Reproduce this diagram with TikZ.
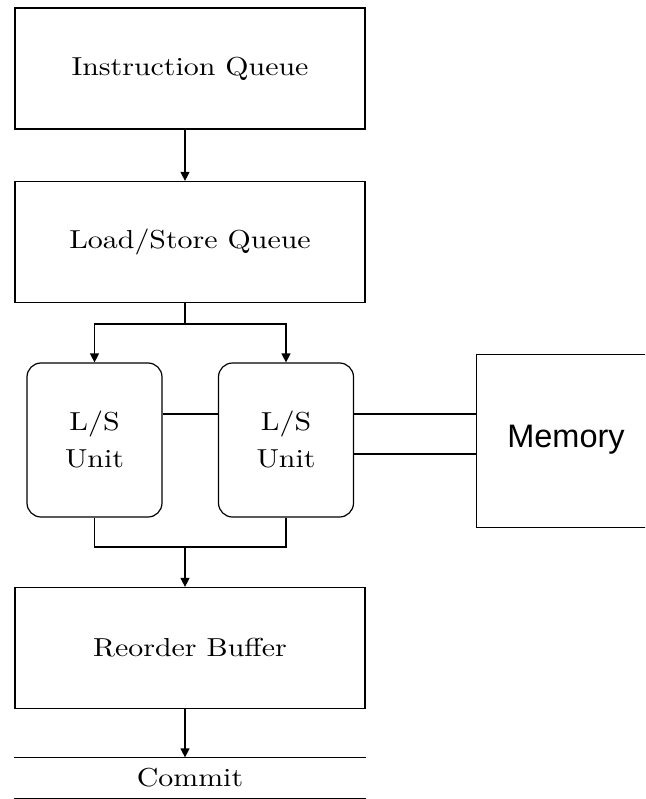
\documentclass[tikz,border=0pt]{standalone}
\usepackage{fontspec}
\setmainfont{lmroman10-regular.otf}[FakeStretch=1.15]
\newfontfamily\memfont{Liberation Sans}
\usetikzlibrary{arrows.meta}
\begin{document}
\begin{tikzpicture}[x=1pt,y=-1pt,
  line width=1.2pt,
  every node/.style={font=\fontsize{26}{37}\selectfont},
  block/.style={draw, rectangle, minimum width=350pt, minimum height=121pt, inner sep=0pt},
  unitbox/.style={draw, rectangle, rounded corners=14pt, minimum width=135pt, minimum height=154pt, align=center, inner sep=0pt},
  arr/.style={-{Triangle[length=9pt,width=9pt]}}]
\useasboundingbox (0,0) rectangle (645,799);
\clip (0,0) rectangle (645,799);
\node[block] (iq) at (190,68.5) {Instruction Queue};
\node[block] (lsq) at (190,242) {Load/Store Queue};
\node[unitbox] (u1) at (94.5,440) {L/S\\Unit};
\node[unitbox] (u2) at (286,440) {L/S\\Unit};
\node[draw, rectangle, minimum width=180pt, minimum height=173pt, inner sep=0pt, anchor=north west] (mem) at (476,354) {};
\node[font=\memfont\fontsize{32.5}{36}\selectfont] (memlbl) at (566,440) {Memory};
\node[block] (rob) at (190,648) {Reorder Buffer};
\node[minimum width=350pt, minimum height=40pt, inner sep=0pt] (commit) at (190,778) {Commit};
\coordinate (split) at (185,324);
\coordinate (merge) at (185,547);
% connectors
\draw[arr] (iq.south -| split) -- (lsq.north -| split);
\draw (lsq.south -| split) -- (split);
\draw[arr] (split) -| (u1.north);
\draw[arr] (split) -| (u2.north);
\draw (u1.east |- 0,414) -- (u2.west |- 0,414);
\draw (u2.east |- 0,414) -- (mem.west |- 0,414);
\draw (u2.east |- 0,454) -- (mem.west |- 0,454);
\draw (u1.south) |- (merge);
\draw (u2.south) |- (merge);
\draw[arr] (merge) -- (rob.north -| merge);
\draw[arr] (rob.south -| merge) -- (commit.north -| merge);
\draw (commit.north west) -- (commit.north east);
\draw (commit.south west) -- (commit.south east);
\end{tikzpicture}
\end{document}
